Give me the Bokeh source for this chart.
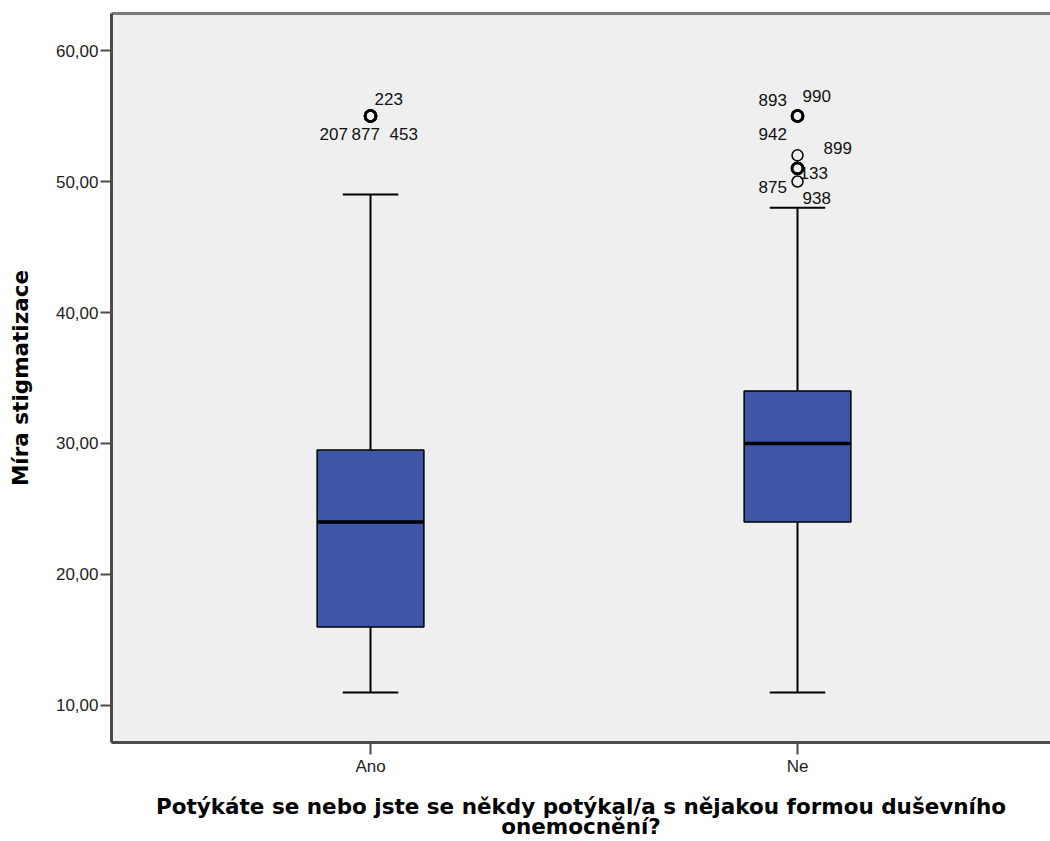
from bokeh.plotting import figure
from bokeh.models import Range1d, FixedTicker, LinearAxis, ColumnDataSource
from bokeh.core.properties import value
from bokeh.embed import file_html
from bokeh.resources import INLINE

# ---------------- data ----------------
categories = ["Ano", "Ne"]
q1 = [16.0, 24.0]
median = [24.0, 30.0]
q3 = [29.5, 34.0]
whisker_low = [11.0, 11.0]
whisker_high = [49.0, 48.0]

outlier_group = ["Ano", "Ano", "Ano", "Ano", "Ne", "Ne", "Ne", "Ne", "Ne", "Ne", "Ne"]
outlier_ids = ["223", "207", "877", "453", "893", "990", "942", "899", "133", "938", "875"]
outlier_values = [55, 55, 55, 55, 55, 55, 55, 52, 51, 51, 50]

y_ticks = [10, 20, 30, 40, 50, 60]
y_tick_labels = ["10,00", "20,00", "30,00", "40,00", "50,00", "60,00"]

x_title = "Potýkáte se nebo jste se někdy potýkal/a s nějakou formou duševního\nonemocnění?"
y_title = "Míra stigmatizace"

# label placement (screen pixel offsets, style only)
label_dx = [4, -51, -19, 19, -39, 5, -39, 26, 2, 5, -39]
label_dy = [-17, 18, 18, 18, -16, -20, 18, -7, 5, 30, 5]

# ---------------- styles ----------------
BOX_FILL = "#3d56a8"
BG = "#efefef"
AXIS_COL = "#4a4a4a"
BOX_W = 0.25
CAP_W = 0.13
TICK_FONT = "Liberation Sans"
TITLE_FONT = "DejaVu Sans"

pos = {c: i + 1 for i, c in enumerate(categories)}
xs = [pos[c] for c in categories]

p = figure(width=1050, height=841,
           x_range=Range1d(0.3934, 2.5925), y_range=Range1d(7.175, 62.825),
           output_backend="svg", toolbar_location=None,
           min_border_left=111, min_border_right=0, min_border_top=13, min_border_bottom=99,
           background_fill_color=BG, border_fill_color="white",
           outline_line_color=None)
p.xgrid.visible = False
p.ygrid.visible = False

box_src = ColumnDataSource(dict(
    x=xs, q1=q1, q3=q3, med=median, lo=whisker_low, hi=whisker_high,
    x0=[x - BOX_W / 2 for x in xs], x1=[x + BOX_W / 2 for x in xs],
    c0=[x - CAP_W / 2 for x in xs], c1=[x + CAP_W / 2 for x in xs],
))

# whiskers
p.segment(x0="x", y0="q3", x1="x", y1="hi", source=box_src, line_color="black", line_width=2)
p.segment(x0="x", y0="q1", x1="x", y1="lo", source=box_src, line_color="black", line_width=2)
p.segment(x0="c0", y0="hi", x1="c1", y1="hi", source=box_src, line_color="black", line_width=2)
p.segment(x0="c0", y0="lo", x1="c1", y1="lo", source=box_src, line_color="black", line_width=2)
# boxes
p.vbar(x="x", width=BOX_W, bottom="q1", top="q3", source=box_src,
       fill_color=BOX_FILL, line_color="black", line_width=1.5)
# medians
p.segment(x0="x0", y0="med", x1="x1", y1="med", source=box_src, line_color="black", line_width=3.5)

# outliers
ox = [pos[g] for g in outlier_group]
counts = {}
for g, v in zip(outlier_group, outlier_values):
    counts[(g, v)] = counts.get((g, v), 0) + 1
lw = [2.6 if counts[(g, v)] > 1 else 1.5 for g, v in zip(outlier_group, outlier_values)]
out_src = ColumnDataSource(dict(x=ox, y=outlier_values, ids=outlier_ids, lw=lw,
                                dx=label_dx, dy=label_dy))
p.scatter(x="x", y="y", source=out_src, marker="circle", size=11,
          fill_color=None, line_color="black", line_width="lw")
p.text(x="x", y="y", text="ids", source=out_src, x_offset="dx", y_offset="dy",
       text_align="left", text_baseline="middle", text_font=value(TICK_FONT),
       text_font_size="17px", text_color="#111111")

# axes
ya = p.yaxis[0]
ya.ticker = FixedTicker(ticks=y_ticks)
ya.major_label_overrides = {t: l for t, l in zip(y_ticks, y_tick_labels)}
ya.axis_label = y_title
xa = p.xaxis[0]
xa.ticker = FixedTicker(ticks=xs)
xa.major_label_overrides = {pos[c]: c for c in categories}
xa.axis_label = x_title

for ax in (xa, ya):
    ax.axis_line_width = 3
    ax.axis_line_color = AXIS_COL
    ax.major_tick_line_color = AXIS_COL
    ax.major_tick_line_width = 2
    ax.major_tick_in = 0
    ax.minor_tick_line_color = None
    ax.major_label_text_font = TICK_FONT
    ax.major_label_text_font_size = "17px"
    ax.major_label_text_color = "#222222"
    ax.axis_label_text_font = TITLE_FONT
    ax.axis_label_text_font_style = "bold"
    ax.axis_label_text_font_size = "21.5px"
    ax.axis_label_text_color = "black"

ya.major_tick_out = 11
ya.major_label_standoff = 2
ya.axis_label_standoff = 20
xa.major_tick_out = 12
xa.major_label_standoff = 2
xa.axis_label_standoff = 15
xa.axis_label_text_line_height = 0.8

top = LinearAxis(ticker=FixedTicker(ticks=[]), axis_line_width=3, axis_line_color="#7a7a7a",
                 major_tick_out=0, major_tick_in=0, minor_tick_out=0, minor_tick_in=0,
                 major_label_standoff=0)
p.add_layout(top, "above")

open("out.html", "w").write(file_html(p, INLINE))
